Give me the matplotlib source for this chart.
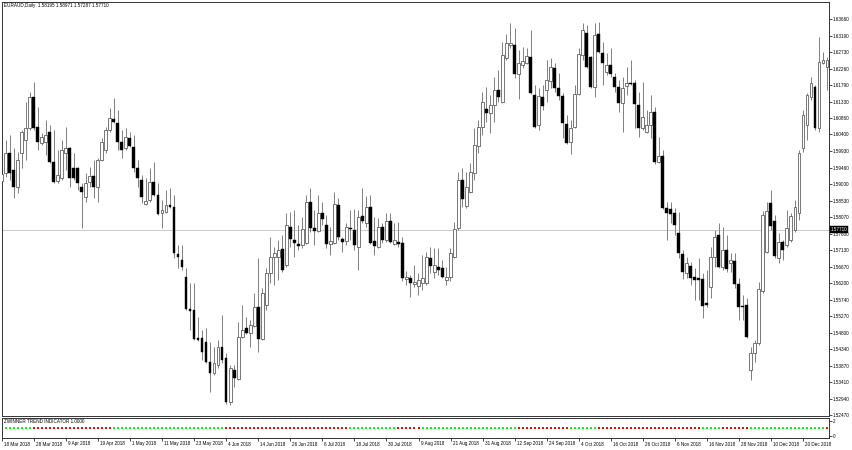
import numpy as np
import matplotlib
matplotlib.use('Agg')
import matplotlib.pyplot as plt
import matplotlib.transforms as mtransforms

plt.rcParams['font.family'] = ['Liberation Sans', 'DejaVu Sans']

# daily OHLC, one row per bar
ohlc = [
    (1.5909, 1.5937, 1.5900, 1.5928), (1.5931, 1.6024, 1.5920, 1.5988), (1.5988, 1.6038, 1.5911, 1.5931),
    (1.5940, 1.6002, 1.5861, 1.5892), (1.5892, 1.5990, 1.5875, 1.5968), (1.5988, 1.6053, 1.5945, 1.6047),
    (1.6024, 1.6132, 1.5968, 1.6058), (1.6058, 1.6160, 1.6053, 1.6146), (1.6146, 1.6188, 1.6053, 1.6058),
    (1.6061, 1.6118, 1.5996, 1.6019), (1.6016, 1.6044, 1.6010, 1.6033), (1.6019, 1.6081, 1.5982, 1.6038),
    (1.6047, 1.6067, 1.5959, 1.5962), (1.5962, 1.6053, 1.5903, 1.5906), (1.5909, 1.5996, 1.5903, 1.5926),
    (1.5917, 1.6024, 1.5911, 1.5996), (1.5988, 1.6061, 1.5940, 1.6002), (1.6002, 1.6005, 1.5892, 1.5917),
    (1.5945, 1.5988, 1.5911, 1.5917), (1.5945, 1.5948, 1.5883, 1.5903), (1.5892, 1.5903, 1.5776, 1.5878),
    (1.5863, 1.5931, 1.5849, 1.5903), (1.5906, 1.5948, 1.5892, 1.5923), (1.5923, 1.5968, 1.5861, 1.5892),
    (1.5892, 1.5974, 1.5849, 1.5968), (1.5968, 1.6030, 1.5965, 1.6019), (1.5996, 1.6061, 1.5988, 1.6053),
    (1.6053, 1.6115, 1.6047, 1.6086), (1.6084, 1.6143, 1.6072, 1.6075), (1.6072, 1.6109, 1.5996, 1.6019),
    (1.6019, 1.6053, 1.5974, 1.5996), (1.6002, 1.6058, 1.5996, 1.6033), (1.6030, 1.6047, 1.6005, 1.6007),
    (1.6005, 1.6038, 1.5934, 1.5945), (1.5945, 1.5968, 1.5892, 1.5917), (1.5911, 1.5926, 1.5847, 1.5863),
    (1.5844, 1.5917, 1.5841, 1.5852), (1.5855, 1.5945, 1.5849, 1.5906), (1.5906, 1.5962, 1.5866, 1.5869),
    (1.5869, 1.5903, 1.5813, 1.5815), (1.5818, 1.5855, 1.5776, 1.5827), (1.5821, 1.5883, 1.5818, 1.5841),
    (1.5841, 1.5889, 1.5832, 1.5835), (1.5835, 1.5869, 1.5691, 1.5705), (1.5703, 1.5728, 1.5663, 1.5694),
    (1.5686, 1.5728, 1.5657, 1.5666), (1.5638, 1.5663, 1.5544, 1.5547), (1.5547, 1.5621, 1.5488, 1.5542),
    (1.5544, 1.5621, 1.5460, 1.5463), (1.5465, 1.5525, 1.5457, 1.5460), (1.5465, 1.5488, 1.5403, 1.5426),
    (1.5454, 1.5494, 1.5395, 1.5398), (1.5398, 1.5454, 1.5313, 1.5367), (1.5367, 1.5440, 1.5361, 1.5395),
    (1.5389, 1.5460, 1.5381, 1.5440), (1.5440, 1.5530, 1.5395, 1.5403), (1.5409, 1.5423, 1.5279, 1.5285),
    (1.5285, 1.5389, 1.5276, 1.5381), (1.5375, 1.5389, 1.5327, 1.5353), (1.5350, 1.5511, 1.5347, 1.5468),
    (1.5468, 1.5559, 1.5465, 1.5488), (1.5494, 1.5525, 1.5477, 1.5480), (1.5480, 1.5516, 1.5440, 1.5502),
    (1.5499, 1.5592, 1.5496, 1.5553), (1.5553, 1.5691, 1.5426, 1.5463), (1.5463, 1.5607, 1.5460, 1.5592),
    (1.5559, 1.5663, 1.5544, 1.5649), (1.5649, 1.5751, 1.5621, 1.5694), (1.5694, 1.5722, 1.5615, 1.5705),
    (1.5694, 1.5742, 1.5629, 1.5714), (1.5717, 1.5756, 1.5652, 1.5657), (1.5672, 1.5818, 1.5666, 1.5784),
    (1.5779, 1.5821, 1.5722, 1.5745), (1.5742, 1.5827, 1.5694, 1.5734), (1.5731, 1.5784, 1.5714, 1.5725),
    (1.5728, 1.5807, 1.5720, 1.5773), (1.5734, 1.5869, 1.5731, 1.5849), (1.5849, 1.5889, 1.5765, 1.5776),
    (1.5776, 1.5827, 1.5728, 1.5768), (1.5768, 1.5869, 1.5765, 1.5818), (1.5818, 1.5849, 1.5784, 1.5801),
    (1.5784, 1.5813, 1.5720, 1.5731), (1.5731, 1.5779, 1.5700, 1.5739), (1.5734, 1.5878, 1.5731, 1.5844),
    (1.5841, 1.5861, 1.5742, 1.5751), (1.5745, 1.5751, 1.5708, 1.5736), (1.5739, 1.5790, 1.5728, 1.5779),
    (1.5776, 1.5827, 1.5742, 1.5773), (1.5770, 1.5830, 1.5714, 1.5728), (1.5722, 1.5827, 1.5657, 1.5807),
    (1.5810, 1.5889, 1.5790, 1.5796), (1.5790, 1.5866, 1.5779, 1.5835), (1.5835, 1.5869, 1.5731, 1.5734),
    (1.5739, 1.5807, 1.5700, 1.5725), (1.5722, 1.5804, 1.5720, 1.5779), (1.5779, 1.5790, 1.5734, 1.5742),
    (1.5742, 1.5818, 1.5736, 1.5796), (1.5796, 1.5818, 1.5734, 1.5736), (1.5731, 1.5790, 1.5728, 1.5742),
    (1.5736, 1.5793, 1.5722, 1.5731), (1.5734, 1.5751, 1.5626, 1.5635), (1.5632, 1.5655, 1.5615, 1.5638),
    (1.5635, 1.5643, 1.5581, 1.5621), (1.5618, 1.5672, 1.5609, 1.5624), (1.5612, 1.5649, 1.5587, 1.5629),
    (1.5621, 1.5700, 1.5601, 1.5635), (1.5621, 1.5708, 1.5615, 1.5694), (1.5691, 1.5722, 1.5649, 1.5669),
    (1.5652, 1.5720, 1.5635, 1.5672), (1.5666, 1.5720, 1.5643, 1.5657), (1.5663, 1.5686, 1.5635, 1.5638),
    (1.5629, 1.5666, 1.5615, 1.5638), (1.5638, 1.5720, 1.5626, 1.5705), (1.5694, 1.5793, 1.5691, 1.5773),
    (1.5776, 1.5934, 1.5770, 1.5911), (1.5911, 1.5945, 1.5835, 1.5858), (1.5838, 1.5934, 1.5832, 1.5892),
    (1.5878, 1.5959, 1.5875, 1.5934), (1.5931, 1.6058, 1.5911, 1.6010), (1.6007, 1.6081, 1.5988, 1.6061),
    (1.6061, 1.6160, 1.6038, 1.6132), (1.6112, 1.6174, 1.6075, 1.6101), (1.6101, 1.6151, 1.6044, 1.6123),
    (1.6123, 1.6202, 1.6075, 1.6166), (1.6166, 1.6222, 1.6132, 1.6146), (1.6132, 1.6301, 1.6129, 1.6264),
    (1.6256, 1.6324, 1.6250, 1.6298), (1.6293, 1.6355, 1.6284, 1.6298), (1.6293, 1.6341, 1.6199, 1.6211),
    (1.6211, 1.6278, 1.6140, 1.6242), (1.6236, 1.6287, 1.6228, 1.6247), (1.6242, 1.6284, 1.6239, 1.6262),
    (1.6259, 1.6335, 1.6154, 1.6157), (1.6151, 1.6180, 1.6058, 1.6061), (1.6067, 1.6171, 1.6053, 1.6149),
    (1.6146, 1.6180, 1.6109, 1.6120), (1.6166, 1.6250, 1.6132, 1.6194), (1.6191, 1.6256, 1.6171, 1.6230),
    (1.6228, 1.6242, 1.6160, 1.6171), (1.6171, 1.6214, 1.6137, 1.6149), (1.6149, 1.6157, 1.6030, 1.6072),
    (1.6070, 1.6095, 1.6013, 1.6016), (1.6019, 1.6081, 1.5985, 1.6058), (1.6061, 1.6180, 1.6058, 1.6154),
    (1.6154, 1.6284, 1.6151, 1.6267), (1.6264, 1.6355, 1.6250, 1.6335), (1.6326, 1.6349, 1.6228, 1.6230),
    (1.6259, 1.6262, 1.6171, 1.6174), (1.6174, 1.6355, 1.6146, 1.6321), (1.6324, 1.6358, 1.6270, 1.6273),
    (1.6270, 1.6301, 1.6180, 1.6242), (1.6216, 1.6270, 1.6208, 1.6236), (1.6236, 1.6284, 1.6202, 1.6211),
    (1.6202, 1.6214, 1.6160, 1.6174), (1.6174, 1.6194, 1.6103, 1.6129), (1.6129, 1.6202, 1.6047, 1.6171),
    (1.6177, 1.6230, 1.6151, 1.6185), (1.6185, 1.6250, 1.6180, 1.6182), (1.6185, 1.6194, 1.6058, 1.6126),
    (1.6123, 1.6160, 1.6033, 1.6058), (1.6058, 1.6188, 1.6053, 1.6089), (1.6047, 1.6109, 1.6044, 1.6067),
    (1.6067, 1.6151, 1.6030, 1.6103), (1.6103, 1.6118, 1.5957, 1.5962), (1.5962, 1.6033, 1.5959, 1.5979),
    (1.5979, 1.5996, 1.5829, 1.5832), (1.5832, 1.5849, 1.5742, 1.5818), (1.5829, 1.5849, 1.5790, 1.5815),
    (1.5818, 1.5832, 1.5756, 1.5784), (1.5762, 1.5821, 1.5691, 1.5705), (1.5703, 1.5714, 1.5632, 1.5652),
    (1.5649, 1.5694, 1.5635, 1.5677), (1.5669, 1.5680, 1.5615, 1.5635), (1.5638, 1.5663, 1.5573, 1.5629),
    (1.5635, 1.5691, 1.5573, 1.5629), (1.5632, 1.5649, 1.5522, 1.5556), (1.5564, 1.5657, 1.5553, 1.5559),
    (1.5609, 1.5722, 1.5578, 1.5694), (1.5694, 1.5770, 1.5666, 1.5751), (1.5756, 1.5790, 1.5663, 1.5666),
    (1.5666, 1.5779, 1.5657, 1.5714), (1.5714, 1.5756, 1.5652, 1.5660), (1.5677, 1.5705, 1.5652, 1.5686),
    (1.5683, 1.5705, 1.5607, 1.5618), (1.5618, 1.5635, 1.5516, 1.5553), (1.5556, 1.5587, 1.5516, 1.5553),
    (1.5559, 1.5578, 1.5465, 1.5468), (1.5375, 1.5440, 1.5347, 1.5423), (1.5423, 1.5460, 1.5398, 1.5451),
    (1.5451, 1.5624, 1.5446, 1.5604), (1.5598, 1.5824, 1.5592, 1.5813), (1.5708, 1.5849, 1.5705, 1.5824),
    (1.5847, 1.5883, 1.5770, 1.5782), (1.5796, 1.5813, 1.5691, 1.5697), (1.5691, 1.5762, 1.5677, 1.5736),
    (1.5736, 1.5742, 1.5686, 1.5714), (1.5728, 1.5827, 1.5722, 1.5776), (1.5742, 1.5818, 1.5736, 1.5810),
    (1.5770, 1.5855, 1.5765, 1.5835), (1.5818, 1.5996, 1.5799, 1.5988), (1.6002, 1.6109, 1.5990, 1.6095),
    (1.6067, 1.6157, 1.6024, 1.6151), (1.6146, 1.6202, 1.6137, 1.6185), (1.6174, 1.6180, 1.6053, 1.6058),
    (1.6058, 1.6315, 1.6047, 1.6245), (1.6242, 1.6273, 1.6239, 1.6250), (1.6230, 1.6259, 1.6166, 1.6250),
]

# indicator colour runs: (state, number of bars)
trend_runs = [('up', 8), ('down', 20), ('up', 28), ('down', 31), ('up', 12), ('down', 6),
              ('up', 24), ('down', 13), ('up', 7), ('down', 26), ('up', 5), ('down', 7),
              ('up', 19), ('down', 1)]

price_ticks = [1.63660, 1.63190, 1.62730, 1.62260, 1.61790, 1.61330, 1.60860, 1.60400,
               1.59930, 1.59460, 1.59000, 1.58530, 1.58070, 1.57600, 1.57130, 1.56670,
               1.56200, 1.55740, 1.55270, 1.54800, 1.54340, 1.53870, 1.53410, 1.52940, 1.52470]

date_bars = [0, 8, 16, 24, 32, 40, 48, 56, 64, 72, 80, 88, 96, 104, 112, 120, 128,
             136, 144, 152, 160, 168, 176, 184, 192, 200]
date_labels = ['18 Mar 2018', '28 Mar 2018', '9 Apr 2018', '19 Apr 2018', '1 May 2018',
               '11 May 2018', '23 May 2018', '4 Jun 2018', '14 Jun 2018', '26 Jun 2018',
               '6 Jul 2018', '18 Jul 2018', '30 Jul 2018', '9 Aug 2018', '21 Aug 2018',
               '31 Aug 2018', '12 Sep 2018', '24 Sep 2018', '4 Oct 2018', '16 Oct 2018',
               '26 Oct 2018', '6 Nov 2018', '16 Nov 2018', '28 Nov 2018', '10 Dec 2018',
               '20 Dec 2018']

title = 'EURAUD,Daily  1.58195 1.58971 1.57287 1.57710'
last_price = 1.57710

o, h, l, c = (np.array(v) for v in zip(*ohlc))
x = np.arange(len(o))
up = c >= o

FS = 3.3
fig = plt.figure(figsize=(8.52, 4.5), dpi=100)
ax = fig.add_axes([2 / 852, 1 - 416 / 450, 827 / 852, 414 / 450])
ind = fig.add_axes([2 / 852, 1 - 438 / 450, 827 / 852, 20 / 450])

# candles
ax.axhline(last_price, color='#c0c0c0', lw=0.6, zorder=1)
ax.vlines(x, l, h, color='#808080', lw=0.7, zorder=2)
bottom = np.minimum(o, c)
height = np.maximum(np.abs(c - o), 0.00025)
ax.bar(x[up], height[up], bottom=bottom[up], width=0.72, color='white',
       edgecolor='#606060', linewidth=0.6, zorder=3)
ax.bar(x[~up], height[~up], bottom=bottom[~up], width=0.72, color='black',
       edgecolor='black', linewidth=0.3, zorder=3)

ax.set_xlim(0.075, 206.5)
ax.set_ylim(1.52452, 1.64140)
ax.set_xticks([])
ax.yaxis.tick_right()
ax.set_yticks(price_ticks)
ax.set_yticklabels(['%.5f' % t for t in price_ticks])
ax.tick_params(axis='y', labelsize=FS, length=2, width=0.5, pad=1)
for s in ax.spines.values():
    s.set_linewidth(0.7)
    s.set_color('#333333')

ax.text(0.002, 0.997, title, transform=ax.transAxes, va='top', ha='left', fontsize=FS)

trans = mtransforms.blended_transform_factory(ax.transAxes, ax.transData)
ax.text(1.002, last_price, '%.5f' % last_price, transform=trans, color='white', fontsize=FS,
        va='center', ha='left', zorder=10, clip_on=False,
        bbox=dict(boxstyle='square,pad=0.2', fc='black', ec='black', lw=0.3))

# indicator panel
trend = [state for state, n in trend_runs for _ in range(n)]
colors = np.array(['#00ff00' if s == 'up' else '#ff0000' for s in trend])
for col in ['#00ff00', '#ff0000']:
    sel = colors == col
    ind.plot(x[sel], np.ones(sel.sum()), linestyle='none', marker='s', markersize=2.1,
             markeredgewidth=0, color=col)
ind.set_xlim(0.075, 206.5)
ind.set_ylim(-0.27, 2.4)
ind.yaxis.tick_right()
ind.set_yticks([0, 2])
ind.set_yticklabels(['0', '2'])
ind.tick_params(axis='y', labelsize=FS, length=2, width=0.5, pad=1)
ind.set_xticks(date_bars)
ind.set_xticklabels([])
ind.tick_params(axis='x', length=2, width=0.5)
for s in ind.spines.values():
    s.set_linewidth(0.7)
    s.set_color('#333333')
ind.text(0.002, 0.83, 'ZWINNER TREND INDICATOR 1.0000', transform=ind.transAxes,
         va='center', ha='left', fontsize=FS)

dtrans = mtransforms.blended_transform_factory(ind.transData, ind.transAxes)
for b, lab in zip(date_bars, date_labels):
    ind.text(b + 0.5, -0.3, lab, transform=dtrans, va='center', ha='left',
             fontsize=FS, clip_on=False)

fig.savefig('out.png', dpi=100)
